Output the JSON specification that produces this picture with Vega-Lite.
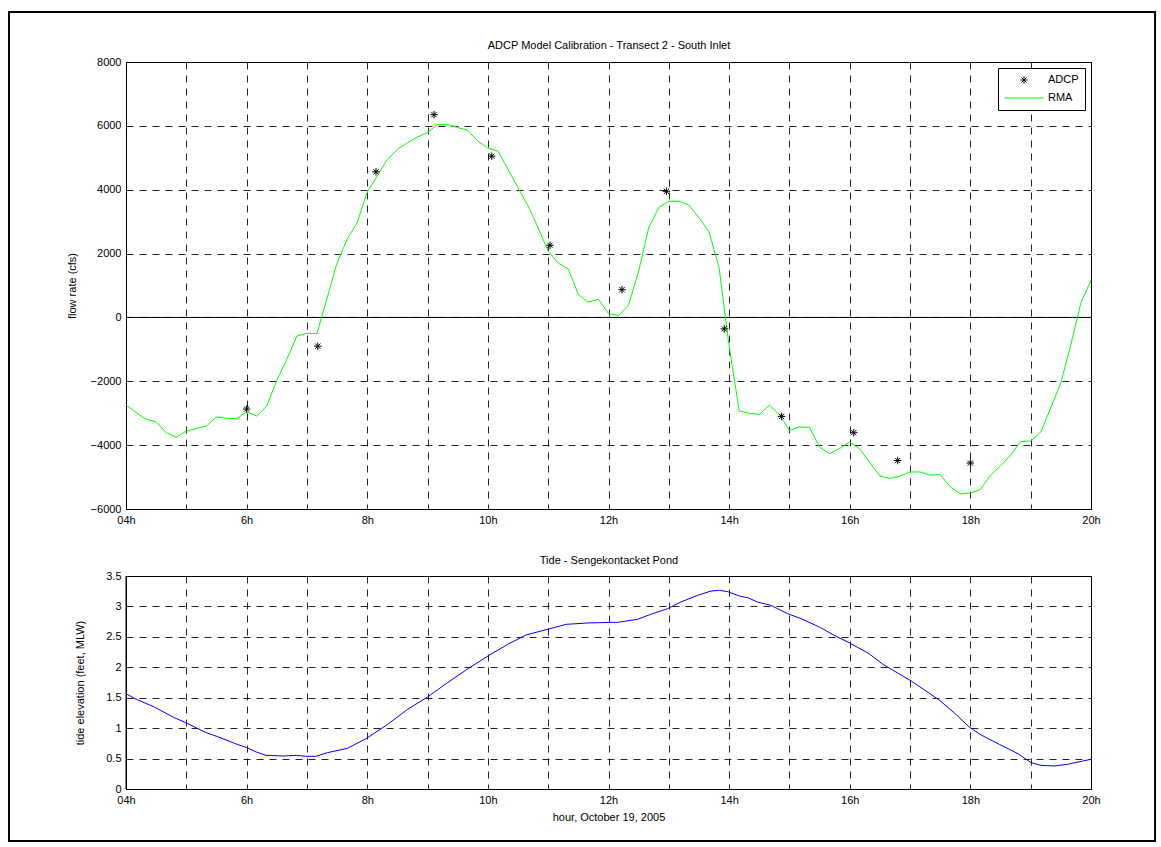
{
  "$schema": "https://vega.github.io/schema/vega-lite/v6.json",
  "background": "white",
  "padding": {"left": 7, "top": 10, "right": 6, "bottom": 6},
  "config": {
    "font": "Liberation Sans",
    "view": {"stroke": "black", "strokeWidth": 1},
    "axis": {
      "labelFont": "Liberation Sans", "labelFontSize": 11, "labelColor": "black",
      "titleFont": "Liberation Sans", "titleFontSize": 11, "titleFontWeight": "normal", "titleColor": "black",
      "domain": false, "ticks": false, "grid": true, "gridColor": "black", "gridDash": [7, 6], "gridOpacity": 0.85, "gridWidth": 1,
      "labelFlush": false, "labelOverlap": false, "labelPadding": 5
    }
  },
  "datasets": {
    "adcp": [
      {"h": 6.0, "flow": -2870}, {"h": 7.18, "flow": -900}, {"h": 8.145, "flow": 4560}, {"h": 9.107, "flow": 6350},
      {"h": 10.064, "flow": 5050}, {"h": 11.03, "flow": 2260}, {"h": 12.224, "flow": 870}, {"h": 12.96, "flow": 3950},
      {"h": 13.92, "flow": -360}, {"h": 14.87, "flow": -3100}, {"h": 16.066, "flow": -3610}, {"h": 16.795, "flow": -4480},
      {"h": 18.0, "flow": -4560}
    ],
    "rma": [
      {"h": 4.0, "flow": -2740}, {"h": 4.167, "flow": -2980}, {"h": 4.333, "flow": -3190}, {"h": 4.5, "flow": -3270},
      {"h": 4.667, "flow": -3610}, {"h": 4.833, "flow": -3750}, {"h": 5.0, "flow": -3560}, {"h": 5.333, "flow": -3400},
      {"h": 5.5, "flow": -3120}, {"h": 5.667, "flow": -3160}, {"h": 5.833, "flow": -3170}, {"h": 6.0, "flow": -2960},
      {"h": 6.167, "flow": -3090}, {"h": 6.333, "flow": -2780}, {"h": 6.5, "flow": -1970}, {"h": 6.667, "flow": -1310},
      {"h": 6.833, "flow": -580}, {"h": 7.0, "flow": -500}, {"h": 7.167, "flow": -500}, {"h": 7.333, "flow": 600},
      {"h": 7.5, "flow": 1710}, {"h": 7.667, "flow": 2450}, {"h": 7.833, "flow": 2970}, {"h": 8.0, "flow": 3930},
      {"h": 8.167, "flow": 4430}, {"h": 8.333, "flow": 4950}, {"h": 8.5, "flow": 5260}, {"h": 8.667, "flow": 5470},
      {"h": 8.833, "flow": 5650}, {"h": 9.0, "flow": 5790}, {"h": 9.167, "flow": 6050}, {"h": 9.333, "flow": 6040},
      {"h": 9.5, "flow": 5950}, {"h": 9.667, "flow": 5860}, {"h": 9.833, "flow": 5520}, {"h": 10.0, "flow": 5310},
      {"h": 10.167, "flow": 5210}, {"h": 10.333, "flow": 4640}, {"h": 10.5, "flow": 4060}, {"h": 10.667, "flow": 3490},
      {"h": 10.833, "flow": 2810}, {"h": 11.0, "flow": 2080}, {"h": 11.167, "flow": 1700}, {"h": 11.333, "flow": 1520},
      {"h": 11.5, "flow": 720}, {"h": 11.667, "flow": 480}, {"h": 11.833, "flow": 570}, {"h": 12.0, "flow": 120},
      {"h": 12.167, "flow": 60}, {"h": 12.333, "flow": 390}, {"h": 12.5, "flow": 1450}, {"h": 12.667, "flow": 2810},
      {"h": 12.833, "flow": 3440}, {"h": 13.0, "flow": 3640}, {"h": 13.167, "flow": 3640}, {"h": 13.333, "flow": 3520},
      {"h": 13.5, "flow": 3120}, {"h": 13.667, "flow": 2680}, {"h": 13.833, "flow": 1560}, {"h": 14.0, "flow": -900},
      {"h": 14.167, "flow": -2930}, {"h": 14.333, "flow": -3000}, {"h": 14.5, "flow": -3040}, {"h": 14.667, "flow": -2750},
      {"h": 14.833, "flow": -3040}, {"h": 15.0, "flow": -3540}, {"h": 15.167, "flow": -3430}, {"h": 15.333, "flow": -3450},
      {"h": 15.5, "flow": -4060}, {"h": 15.667, "flow": -4270}, {"h": 15.833, "flow": -4100}, {"h": 16.0, "flow": -3900},
      {"h": 16.167, "flow": -4120}, {"h": 16.333, "flow": -4550}, {"h": 16.5, "flow": -4970}, {"h": 16.667, "flow": -5040},
      {"h": 16.833, "flow": -4970}, {"h": 17.0, "flow": -4840}, {"h": 17.167, "flow": -4840}, {"h": 17.333, "flow": -4940},
      {"h": 17.5, "flow": -4920}, {"h": 17.667, "flow": -5310}, {"h": 17.833, "flow": -5520}, {"h": 18.0, "flow": -5500},
      {"h": 18.167, "flow": -5390}, {"h": 18.333, "flow": -4940}, {"h": 18.5, "flow": -4650}, {"h": 18.667, "flow": -4310},
      {"h": 18.833, "flow": -3890}, {"h": 19.0, "flow": -3870}, {"h": 19.167, "flow": -3590}, {"h": 19.333, "flow": -2830},
      {"h": 19.5, "flow": -2050}, {"h": 19.667, "flow": -840}, {"h": 19.833, "flow": 460}, {"h": 20.0, "flow": 1160}
    ],
    "tide": [
      {"h": 4.0, "elev": 1.566}, {"h": 4.17, "elev": 1.474}, {"h": 4.47, "elev": 1.347}, {"h": 4.8, "elev": 1.172},
      {"h": 4.99, "elev": 1.09}, {"h": 5.33, "elev": 0.925}, {"h": 5.52, "elev": 0.86}, {"h": 5.8, "elev": 0.75},
      {"h": 6.0, "elev": 0.68}, {"h": 6.16, "elev": 0.608}, {"h": 6.32, "elev": 0.553}, {"h": 6.62, "elev": 0.542},
      {"h": 6.82, "elev": 0.553}, {"h": 6.98, "elev": 0.537}, {"h": 7.15, "elev": 0.537}, {"h": 7.34, "elev": 0.597},
      {"h": 7.67, "elev": 0.668}, {"h": 7.98, "elev": 0.827}, {"h": 8.34, "elev": 1.063}, {"h": 8.67, "elev": 1.31},
      {"h": 9.0, "elev": 1.512}, {"h": 9.33, "elev": 1.747}, {"h": 9.67, "elev": 1.977}, {"h": 10.0, "elev": 2.185},
      {"h": 10.33, "elev": 2.377}, {"h": 10.63, "elev": 2.53}, {"h": 10.99, "elev": 2.624}, {"h": 11.3, "elev": 2.706},
      {"h": 11.66, "elev": 2.728}, {"h": 12.04, "elev": 2.738}, {"h": 12.15, "elev": 2.738}, {"h": 12.48, "elev": 2.788},
      {"h": 12.7, "elev": 2.87}, {"h": 12.98, "elev": 2.963}, {"h": 13.2, "elev": 3.073}, {"h": 13.48, "elev": 3.183},
      {"h": 13.7, "elev": 3.253}, {"h": 13.84, "elev": 3.264}, {"h": 13.98, "elev": 3.242}, {"h": 14.17, "elev": 3.171},
      {"h": 14.31, "elev": 3.143}, {"h": 14.47, "elev": 3.073}, {"h": 14.69, "elev": 3.018}, {"h": 14.97, "elev": 2.881},
      {"h": 15.19, "elev": 2.8}, {"h": 15.52, "elev": 2.65}, {"h": 15.74, "elev": 2.525}, {"h": 15.99, "elev": 2.404},
      {"h": 16.32, "elev": 2.223}, {"h": 16.55, "elev": 2.049}, {"h": 17.02, "elev": 1.775}, {"h": 17.49, "elev": 1.457},
      {"h": 17.76, "elev": 1.227}, {"h": 17.98, "elev": 1.019}, {"h": 18.18, "elev": 0.887}, {"h": 18.48, "elev": 0.734},
      {"h": 18.79, "elev": 0.58}, {"h": 19.01, "elev": 0.432}, {"h": 19.17, "elev": 0.389}, {"h": 19.39, "elev": 0.378},
      {"h": 19.61, "elev": 0.406}, {"h": 20.0, "elev": 0.488}
    ]
  },
  "bounds": "flush",
  "spacing": 67,
  "vconcat": [
    {
      "width": 965,
      "height": 447,
      "resolve": {"axis": {"x": "independent"}},
      "layer": [
        {
          "data": {"values": [{}]},
          "mark": {"type": "rect", "fill": "white", "fillOpacity": 0, "stroke": "black", "strokeWidth": 2, "clip": false},
          "encoding": {
            "x": {"datum": 2.06, "type": "quantitative", "scale": {"domain": [4, 20], "nice": false, "zero": false},
              "axis": {"values": [4, 5, 6, 7, 8, 9, 10, 11, 12, 13, 14, 15, 16, 17, 18, 19, 20],
                "labelExpr": "datum.value % 2 === 0 ? (datum.value === 4 ? '04h' : datum.value + 'h') : ''", "title": null}},
            "x2": {"datum": 21.062},
            "y": {"datum": 9565, "type": "quantitative", "scale": {"domain": [-6000, 8000], "nice": false, "zero": false},
              "axis": {"values": [-6000, -4000, -2000, 0, 2000, 4000, 6000, 8000], "format": "d", "title": "flow rate (cfs)", "titlePadding": 13}},
            "y2": {"datum": -16398}
          }
        },
        {
          "data": {"values": [{}]},
          "mark": {"type": "rule", "color": "black", "strokeWidth": 1},
          "encoding": {"y": {"datum": 0, "type": "quantitative"}}
        },
        {
          "data": {"name": "rma"},
          "mark": {"type": "line", "strokeWidth": 1},
          "encoding": {
            "x": {"field": "h", "type": "quantitative", "axis": null},
            "y": {"field": "flow", "type": "quantitative"},
            "color": {
              "datum": "RMA",
              "scale": {"domain": ["ADCP", "RMA"], "range": ["#000000", "#00ff00"]},
              "legend": {
                "title": null, "orient": "top-right", "offset": 6, "padding": 6, "columns": 1,
                "strokeColor": "black", "fillColor": "white", "cornerRadius": 0,
                "labelFont": "Liberation Sans", "labelFontSize": 11, "labelColor": "black", "labelOffset": 4,
                "symbolSize": 1521, "clipHeight": 12, "rowPadding": 6, "symbolOffset": 0, "symbolStrokeWidth": 1,
                "encode": {
                  "symbols": {
                    "update": {
                      "shape": {"signal": "datum.value === 'ADCP' ? 'M0,-1V1M-1,0H1M-0.7,-0.7L0.7,0.7M-0.7,0.7L0.7,-0.7' : 'stroke'"},
                      "size": {"signal": "datum.value === 'ADCP' ? 56 : 1521"},
                      "stroke": {"signal": "datum.value === 'ADCP' ? '#000000' : '#00ff00'"},
                      "fill": {"value": "transparent"},
                      "strokeWidth": {"value": 1}
                    }
                  }
                }
              }
            }
          }
        },
        {
          "data": {"name": "adcp"},
          "mark": {"type": "point", "shape": "M0,-1V1M-1,0H1M-0.7,-0.7L0.7,0.7M-0.7,0.7L0.7,-0.7", "size": 56, "filled": false, "strokeWidth": 1, "opacity": 1},
          "encoding": {
            "x": {"field": "h", "type": "quantitative",
              "axis": {"orient": "top", "title": "ADCP Model Calibration - Transect 2 - South Inlet", "labels": false, "grid": false, "ticks": false, "domain": false, "titlePadding": 12}},
            "y": {"field": "flow", "type": "quantitative"},
            "color": {"datum": "ADCP"}
          }
        }
      ]
    },
    {
      "width": 965,
      "height": 213,
      "resolve": {"axis": {"x": "independent"}},
      "layer": [
        {
          "data": {"name": "tide"},
          "mark": {"type": "line", "color": "#0000ff", "strokeWidth": 1},
          "encoding": {
            "x": {"field": "h", "type": "quantitative", "scale": {"domain": [4, 20], "nice": false, "zero": false},
              "axis": {"values": [4, 5, 6, 7, 8, 9, 10, 11, 12, 13, 14, 15, 16, 17, 18, 19, 20],
                "labelExpr": "datum.value % 2 === 0 ? (datum.value === 4 ? '04h' : datum.value + 'h') : ''",
                "title": "hour, October 19, 2005", "titlePadding": 6}},
            "y": {"field": "elev", "type": "quantitative", "scale": {"domain": [0, 3.5], "nice": false, "zero": false},
              "axis": {"values": [0, 0.5, 1, 1.5, 2, 2.5, 3, 3.5], "format": "~g", "title": "tide elevation (feet, MLW)", "titlePadding": 20}}
          }
        },
        {
          "data": {"values": [{}]},
          "mark": {"type": "rule", "color": "black", "strokeWidth": 1},
          "encoding": {
            "x": {"datum": 4, "type": "quantitative",
              "axis": {"orient": "top", "title": "Tide - Sengekontacket Pond", "labels": false, "grid": false, "ticks": false, "domain": false, "titlePadding": 11}}
          }
        }
      ]
    }
  ]
}
